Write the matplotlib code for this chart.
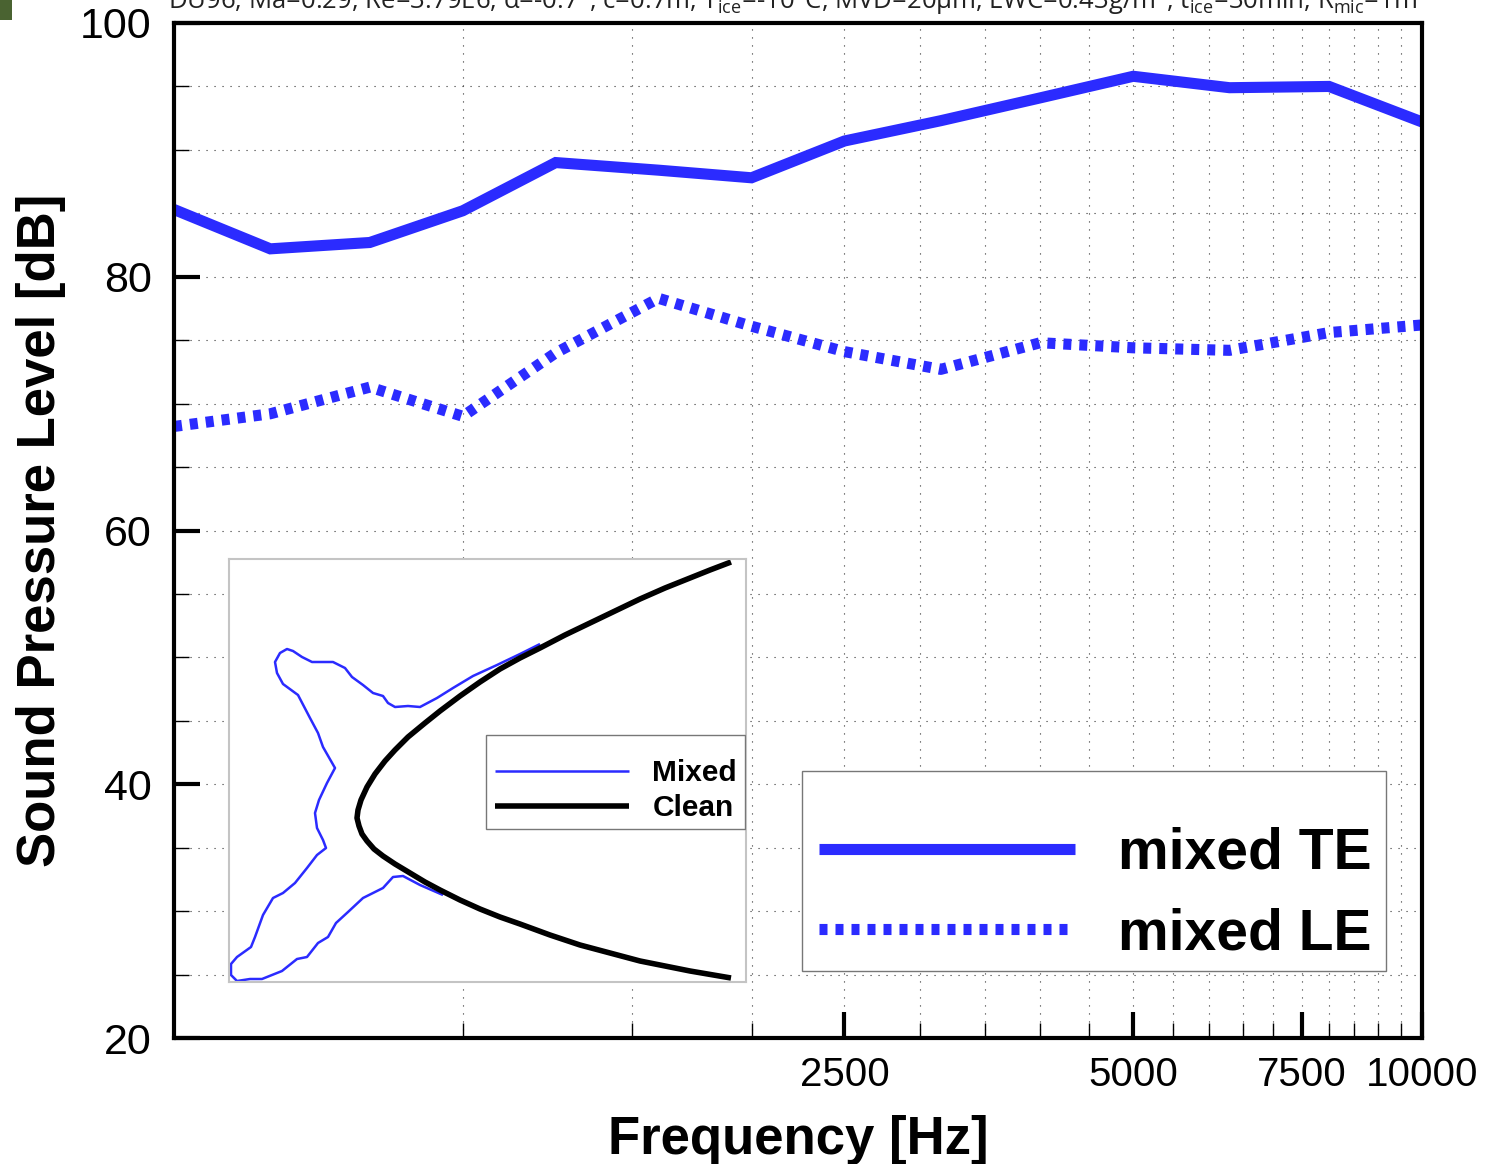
import numpy as np
import matplotlib
matplotlib.use('Agg')
import matplotlib.pyplot as plt
from matplotlib.patches import Rectangle

# third octave bands
freq = [500, 630, 800, 1000, 1250, 1600, 2000, 2500, 3150, 4000, 5000, 6300, 8000, 10000]
spl_te = [85.3, 82.2, 82.7, 85.2, 89.0, 88.4, 87.8, 90.7, 92.3, 94.1, 95.8, 94.9, 95.0, 92.2]
spl_le = [68.2, 69.2, 71.3, 69.0, 74.0, 78.3, 76.1, 74.1, 72.7, 74.8, 74.4, 74.2, 75.6, 76.2]

x_major = [2500, 5000, 7500, 10000]
x_minor = [1000, 1500, 2000, 3000, 3500, 4000, 4500, 5500, 6000, 6500, 7000, 8000, 8500, 9000, 9500]
y_major = [20, 40, 60, 80, 100]
y_minor = [25, 30, 35, 45, 50, 55, 65, 70, 75, 85, 90, 95]

# ice shape outlines
mixed_x = [540, 520, 497, 473, 453, 437, 420, 408, 395, 388, 383, 373, 363, 352, 345, 333, 312, 302, 293, 287, 280,
           275, 277, 283, 298, 310, 318, 323, 335, 327, 319, 315, 317, 323, 326, 317, 307, 295, 283, 273, 263,
           255, 251, 237, 231, 231, 237, 250, 262, 282, 297, 307, 318, 328, 336, 348, 363, 383, 393, 403, 420, 443]
mixed_y = [644, 654, 665, 676, 688, 698, 707, 706, 707, 703, 696, 693, 685, 677, 668, 662, 662, 657, 651, 649, 653,
           662, 673, 684, 695, 718, 733, 747, 768, 783, 800, 813, 828, 840, 848, 855, 868, 883, 893, 898, 915,
           937, 947, 957, 964, 975, 981, 979, 979, 971, 959, 957, 943, 937, 923, 912, 898, 888, 877, 876, 885, 895]
clean_x = [731, 710, 690, 665, 640, 615, 590, 565, 540, 520, 500, 480, 460, 440, 425, 408, 395, 385, 375, 367, 361, 358, 357,
           359, 362, 367, 374, 383, 395, 410, 425, 440, 460, 480, 500, 520, 550, 580, 610, 640, 665, 690, 731]
clean_y = [562, 570, 578, 588, 599, 611, 623, 635, 648, 658, 669, 682, 696, 711, 723, 737, 750, 761, 774, 787, 800, 810, 818,
           826, 834, 841, 849, 856, 864, 873, 882, 890, 900, 909, 917, 924, 935, 945, 953, 961, 966, 971, 978]

W, H = 1485, 1164
BLUE = '#2b2bff'

plt.rcParams['font.family'] = ['Liberation Sans', 'DejaVu Sans']

fig = plt.figure(figsize=(W / 100, H / 100), dpi=100)
ax = fig.add_axes([174 / W, 1 - 1038 / H, (1422 - 174) / W, (1038 - 23) / H])
ax.set_xscale('log')
ax.set_xlim(500, 10000)
ax.set_ylim(20, 100)

line_te, = ax.plot(freq, spl_te, color=BLUE, lw=8, solid_joinstyle='miter', solid_capstyle='butt', label='mixed TE')
line_le, = ax.plot(freq, spl_le, color=BLUE, lw=8, ls=(0, (0.72, 0.72)), label='mixed LE')

ax.set_xticks(x_major)
ax.set_xticklabels([str(v) for v in x_major])
ax.set_xticks(x_minor, minor=True)
ax.set_xticklabels([], minor=True)
ax.set_yticks(y_major)
ax.set_yticks(y_minor, minor=True)
ax.tick_params(axis='both', which='major', direction='in', length=18.5, width=3)
ax.tick_params(axis='both', which='minor', direction='in', length=11, width=1)
ax.tick_params(axis='x', which='major', labelsize=29, pad=13)
ax.tick_params(axis='y', which='major', labelsize=31, pad=16)
for v in y_major[1:-1] + y_minor:
    ax.axhline(v, color='#333333', lw=0.8, ls=(0, (1, 6.2)), zorder=0)
for v in x_major + x_minor:
    ax.axvline(v, color='#333333', lw=0.8, ls=(0, (1, 6.2)), zorder=0)
for s in ax.spines.values():
    s.set_linewidth(3)
ax.set_xlabel('Frequency [Hz]', fontsize=38, fontweight='bold', labelpad=15)
ax.set_ylabel('Sound Pressure Level [dB]', fontsize=38, fontweight='bold', labelpad=10.5)

# legend frames are drawn apart, the text sits low in the box in the original
ax.add_patch(Rectangle(((802 - 174) / 1248, (1038 - 971) / 1015), 584 / 1248, 200 / 1015, transform=ax.transAxes,
                       facecolor='white', edgecolor='#777777', lw=1, zorder=4.5))
ax.legend(handles=[line_te, line_le], loc='lower left', bbox_to_anchor=((819 - 174) / 1248, (1038 - 961) / 1015),
          handlelength=4.5, handletextpad=0.75, labelspacing=0.46, borderpad=0, borderaxespad=0, frameon=False,
          prop={'family': 'Liberation Sans', 'weight': 'bold', 'size': 41})

# inset with the ice shape
inset = fig.add_axes([229 / W, 1 - 982 / H, (746 - 229) / W, (982 - 559) / H])
inset.set_xlim(229, 746)
inset.set_ylim(982, 559)
inset.set_xticks([])
inset.set_yticks([])
for s in inset.spines.values():
    s.set_color('#c4c4c4')
    s.set_linewidth(1.5)
l_mixed, = inset.plot(mixed_x, mixed_y, color=BLUE, lw=1.8, solid_capstyle='butt', label='Mixed')
l_clean, = inset.plot(clean_x, clean_y, color='black', lw=4, solid_capstyle='butt', label='Clean')
inset.add_patch(Rectangle(((486 - 229) / 517, (982 - 829) / 423), 259 / 517, 94 / 423, transform=inset.transAxes,
                          facecolor='white', edgecolor='#777777', lw=1, zorder=4.5))
inset.legend(handles=[l_mixed, l_clean], loc='lower left', bbox_to_anchor=((495 - 229) / 517, (982 - 822) / 423),
             handlelength=4.5, handletextpad=0.77, labelspacing=0.22, borderpad=0, borderaxespad=0, frameon=False,
             prop={'family': 'Liberation Sans', 'weight': 'bold', 'size': 21.5})

# title is cut off by the top edge in the original
fig.text(168 / W, 1 - 9 / H,
         r'DU96, Ma=0.29, Re=3.79E6, α=-0.7°, c=0.7m, T$_{\mathregular{ice}}$=-10°C, MVD=20μm, LWC=0.43g/m$^{\mathregular{3}}$, t$_{\mathregular{ice}}$=30min, R$_{\mathregular{mic}}$=1m',
         fontsize=18.55, family=['Open Sans', 'DejaVu Sans'], color='#222222', va='baseline', ha='left')

# corner of a picture at top left
fig.add_artist(Rectangle((0, 1 - 20 / H), 12 / W, 20 / H, transform=fig.transFigure, color='#4a6331', lw=0))

fig.savefig('out.png', dpi=100)
